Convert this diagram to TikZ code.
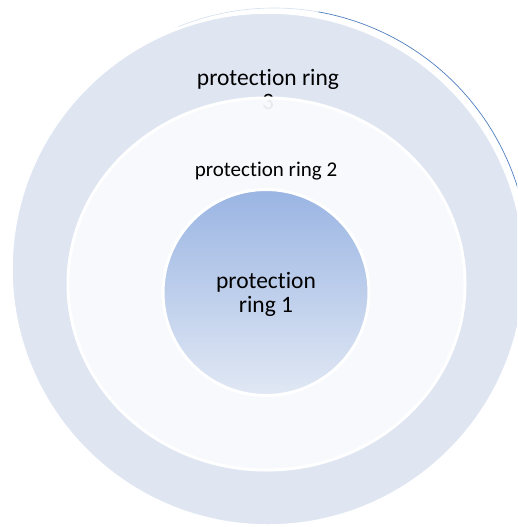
\documentclass[tikz,border=0pt]{standalone}
\usepackage{fontspec}
\setmainfont{Carlito}[Ligatures={NoCommon}]
\definecolor{ringthree}{HTML}{DFE6F2}
\definecolor{ringtwo}{HTML}{F9FBFE}
\definecolor{ringtop}{HTML}{9AB5E3}
\definecolor{ringbot}{HTML}{E1E8F4}
\definecolor{outlineblue}{HTML}{4F7FC0}
\begin{document}
\begin{tikzpicture}[x=1pt,y=-1pt,
  lbl/.style={anchor=base,text=black,inner sep=0pt,align=center},
  bigtxt/.style={font=\fontsize{23.5}{24}\selectfont},
  midtxt/.style={font=\fontsize{21}{24}\selectfont}]
\useasboundingbox (0,0) rectangle (517,527);
\begin{scope}
\clip (0,0) rectangle (517,527);
% shifted outline of the outer ring
\draw[outlineblue!25, line width=0.6pt] (274,263) ++(-112:255) arc[start angle=-112, end angle=-80, radius=255];
\draw[outlineblue, line width=0.7pt] (274,263) ++(-80:255) arc[start angle=-80, end angle=-5, radius=255];
% ring 3
\fill[ringthree, draw=white, line width=1.5pt] (268,269) circle[radius=256];
\node[lbl,bigtxt] (t3a) at (268,85) {protection ring};
\node[lbl,bigtxt] (t3b) at (268,109) {3};
% ring 2
\filldraw[fill=ringtwo, fill opacity=0.93, draw=white, line width=3pt] (266.5,284) ellipse[x radius=198.5, y radius=186];
\node[lbl,midtxt] (t2) at (266,176) {protection ring 2};
% ring 1
\shade[top color=ringtop, bottom color=ringbot] (266,292.5) circle[radius=103];
\draw[white, line width=3pt] (266,292.5) circle[radius=103];
\node[lbl,bigtxt] (t1a) at (266,288) {protection};
\node[lbl,bigtxt] (t1b) at (266,312) {ring 1};
\end{scope}
\end{tikzpicture}
\end{document}
